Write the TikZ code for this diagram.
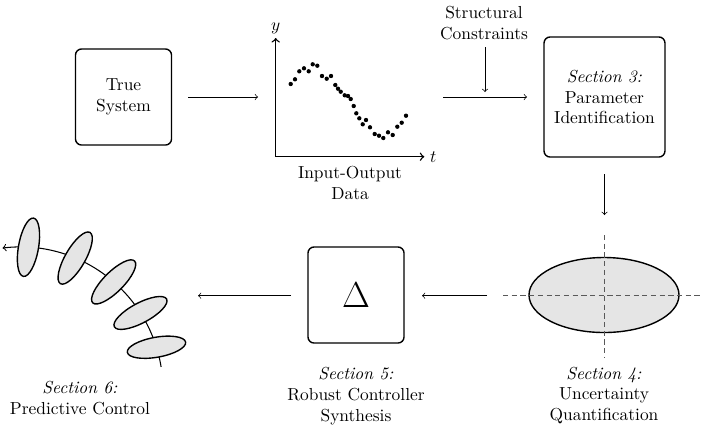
\documentclass[tikz,border=0pt]{standalone}
\usetikzlibrary{shapes.geometric}
\begin{document}
\begin{tikzpicture}[x=0.5747pt,y=-0.5747pt,
  box/.style={draw,thick,rounded corners=3.5pt,align=center,inner sep=0pt},
  arr/.style={->},
  capt/.style={align=center,inner sep=0pt},
  blob/.style={ellipse,draw,thick,fill=gray!20,inner sep=0pt},
  axisline/.style={thick,->},
  dotmark/.style={circle,fill=black,inner sep=0pt,minimum size=2.5pt},
  guide/.style={dash pattern=on 3pt off 2pt,draw=black!65}]
\useasboundingbox (0,0) rectangle (704,432);

% --- top row ---
\node[box,minimum width=55.2pt,minimum height=55.2pt] (ts) at (123.5,97) {True\\System};
\node[box,minimum width=69.5pt,minimum height=69pt] (s3) at (604.5,97) {\textit{Section 3:}\\Parameter\\Identification};

% plot
\coordinate (O) at (275.7,156.7);
\coordinate (ytop) at (275.7,38);
\coordinate (tend) at (424.3,156.7);
\draw[axisline] (O) -- (ytop) node[above,inner sep=2pt] (ylab) {$y$};
\draw[axisline] (O) -- (tend) node[right,inner sep=3pt] (tlab) {$t$};
\foreach \a/\b [count=\i] in {290.7/84,295/79.3,299.3/71.3,304/68.3,308.7/71.3,312.7/64.3,317.3/65.7,322/76,326.7/78.7,331/76,335.3/85,338/88.7,340.7/91.7,344.7/95.3,348/96,350.7/99,353.7/106,356.3/113.3,359.3/118.3,362.7/124.3,366/120,370/127.3,374.7/134,379/135.7,383.3/138,388/132.3,392.7/135,397.3/126.7,401.7/122.7,406/115.7}
  \node[dotmark] (d\i) at (\a,\b) {};
\node[capt] (io) at (350,183) {Input-Output\\Data};

% structural constraints
\node[capt] (sc) at (484,23) {Structural\\Constraints};
\coordinate (scs) at (485,47);
\coordinate (sce) at (485,92);
\draw[arr] (scs) -- (sce);

% top arrows
\coordinate (a1s) at (188,97);
\coordinate (a1e) at (258,97);
\draw[arr] (a1s) -- (a1e);
\coordinate (a2s) at (443,97);
\coordinate (a2e) at (527,97);
\draw[arr] (a2s) -- (a2e);
\coordinate (a3s) at (604.5,174);
\coordinate (a3e) at (604.5,215);
\draw[arr] (a3s) -- (a3e);

% --- bottom row ---
\node[blob,minimum width=86.2pt,minimum height=43.1pt] (unc) at (604,295) {};
\coordinate (hl) at (503,295);
\coordinate (hr) at (700,295);
\coordinate (vt) at (604,235);
\coordinate (vb) at (604,357);
\draw[guide] (hl) -- (hr);
\draw[guide] (vt) -- (vb);
\node[capt] (c4) at (604,395.5) {\textit{Section 4:}\\Uncertainty\\Quantification};

\node[box,minimum width=55.2pt,minimum height=55.2pt] (s5) at (356,295) {\huge$\Delta$};
\node[capt] (c5) at (356,396.5) {\textit{Section 5:}\\Robust Controller\\Synthesis};

\coordinate (a4s) at (487,295.7);
\coordinate (a4e) at (422,295.7);
\draw[arr] (a4s) -- (a4e);
\coordinate (a5s) at (291,295.7);
\coordinate (a5e) at (198,295.7);
\draw[arr] (a5s) -- (a5e);

% predictive control trajectory
\coordinate (ctr) at (20,390);
\coordinate (trs) at (161.1,366.9);
\draw[arr,semithick] (trs) arc[start angle=9.3,end angle=97,radius=82.2pt] coordinate (tre);
\node[blob,minimum width=34pt,minimum height=11.5pt,rotate=10] (e5) at ([shift={(17.4:82.2pt)}]ctr) {};
\node[blob,minimum width=34pt,minimum height=11.5pt,rotate=28] (e4) at ([shift={(32.6:82.2pt)}]ctr) {};
\node[blob,minimum width=34pt,minimum height=11.5pt,rotate=45] (e3) at ([shift={(49.1:82.2pt)}]ctr) {};
\node[blob,minimum width=34pt,minimum height=11.5pt,rotate=60] (e2) at ([shift={(67.3:82.2pt)}]ctr) {};
\node[blob,minimum width=34pt,minimum height=11.5pt,rotate=80] (e1) at ([shift={(86.6:82.2pt)}]ctr) {};
\node[capt] (c6) at (80,398) {\textit{Section 6:}\\Predictive Control};
\end{tikzpicture}
\end{document}
